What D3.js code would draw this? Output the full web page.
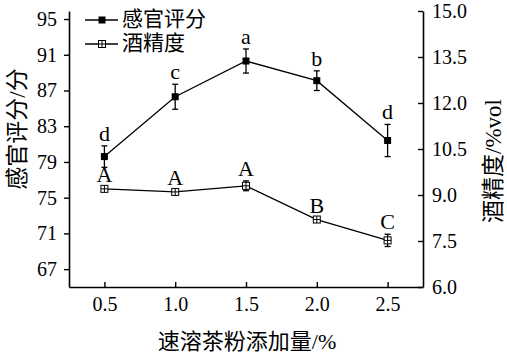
<!DOCTYPE html>
<html><head><meta charset="utf-8">
<script src="https://cdn.jsdelivr.net/npm/d3@7"></script>
<style>
body{margin:0;background:#fff;}
svg{display:block;}
</style></head>
<body><svg id="c" width="507" height="356"></svg>
<script>
const xValues = [0.5, 1.0, 1.5, 2.0, 2.5];
const sensory = [79.6, 86.3, 90.3, 88.1, 81.4];
const sensoryErr = [1.2, 1.4, 1.35, 1.1, 1.8];
const sensoryLetters = ["d", "c", "a", "b", "d"];
const alcohol = [9.2, 9.1, 9.3, 8.2, 7.52];
const alcoholErr = [0.06, 0.05, 0.16, 0.06, 0.2];
const alcoholLetters = ["A", "A", "A", "B", "C"];
const leftTicks = [67, 71, 75, 79, 83, 87, 91, 95];
const rightTicks = [6.0, 7.5, 9.0, 10.5, 12.0, 13.5, 15.0];
const xTicks = [0.5, 1.0, 1.5, 2.0, 2.5];
const seriesNames = ["感官评分", "酒精度"];
const xTitle = "速溶茶粉添加量/%";
const yLeftTitle = "感官评分/分";
const yRightTitle = "酒精度/%vol";

const FONT = '"Liberation Serif", "Times New Roman", "Noto Sans CJK SC", serif';
const svg = d3.select("#c").attr("font-family", FONT);
const L = 69, R = 423, T = 11, B = 287;
const x = d3.scaleLinear().domain([0.25, 2.75]).range([L, R]);
const yL = d3.scaleLinear().domain([65, 95.9]).range([B, T]);
const yR = d3.scaleLinear().domain([6, 15]).range([B, T]);

// axes
const ax = svg.append("g").attr("transform", `translate(0,${B})`)
  .call(d3.axisBottom(x).tickValues(xTicks).tickFormat(d3.format(".1f")).tickSizeInner(-5).tickSizeOuter(0).tickPadding(10));
const ayl = svg.append("g").attr("transform", `translate(${L},0)`)
  .call(d3.axisLeft(yL).tickValues(leftTicks).tickFormat(d3.format("d")).tickSizeInner(5).tickSizeOuter(0).tickPadding(7));
const ayr = svg.append("g").attr("transform", `translate(${R},0)`)
  .call(d3.axisRight(yR).tickValues(rightTicks).tickFormat(d3.format(".1f")).tickSizeInner(-5).tickSizeOuter(0).tickPadding(9));
[ax, ayl, ayr].forEach(g => {
  g.attr("font-family", FONT).attr("font-size", 20);
  g.select(".domain").attr("stroke", "#000").attr("stroke-width", 1.6);
  g.selectAll(".tick line").attr("stroke", "#000").attr("stroke-width", 1.4);
  g.selectAll(".tick text").attr("fill", "#000");
});
ax.selectAll(".tick text").attr("dy", "0.72em");

// lines
const lineL = d3.line().x((d, i) => x(xValues[i])).y(d => yL(d));
const lineR = d3.line().x((d, i) => x(xValues[i])).y(d => yR(d));
svg.append("path").attr("d", lineL(sensory)).attr("fill", "none").attr("stroke", "#000").attr("stroke-width", 1.3);
svg.append("path").attr("d", lineR(alcohol)).attr("fill", "none").attr("stroke", "#000").attr("stroke-width", 1.3);

function errBar(cx, y1, y2) {
  const g = svg.append("g").attr("stroke", "#000").attr("stroke-width", 1.3);
  g.append("line").attr("x1", cx).attr("x2", cx).attr("y1", y1).attr("y2", y2);
  g.append("line").attr("x1", cx - 3).attr("x2", cx + 3).attr("y1", y1).attr("y2", y1);
  g.append("line").attr("x1", cx - 3).attr("x2", cx + 3).attr("y1", y2).attr("y2", y2);
}
function filledSq(cx, cy) {
  svg.append("rect").attr("x", cx - 3.5).attr("y", cy - 3.5).attr("width", 7).attr("height", 7).attr("fill", "#000");
}
function crossSq(cx, cy) {
  const g = svg.append("g").attr("stroke", "#000").attr("stroke-width", 1);
  g.append("rect").attr("x", cx - 3.5).attr("y", cy - 3.5).attr("width", 7).attr("height", 7).attr("fill", "#fff");
  g.append("line").attr("x1", cx - 3.5).attr("x2", cx + 3.5).attr("y1", cy).attr("y2", cy);
  g.append("line").attr("x1", cx).attr("x2", cx).attr("y1", cy - 3.5).attr("y2", cy + 3.5);
}

sensory.forEach((v, i) => {
  const cx = x(xValues[i]);
  errBar(cx, yL(v + sensoryErr[i]), yL(v - sensoryErr[i]));
  filledSq(cx, yL(v));
  svg.append("text").attr("x", cx).attr("y", yL(v + sensoryErr[i]) - 5)
    .attr("text-anchor", "middle").attr("font-size", 22).text(sensoryLetters[i]);
});
alcohol.forEach((v, i) => {
  const cx = x(xValues[i]);
  errBar(cx, yR(v + alcoholErr[i]), yR(v - alcoholErr[i]));
  crossSq(cx, yR(v));
  svg.append("text").attr("x", cx).attr("y", yR(v + alcoholErr[i]) - 5)
    .attr("text-anchor", "middle").attr("font-size", 22).text(alcoholLetters[i]);
});

// legend
const leg = [[20, filledSq], [44, crossSq]];
leg.forEach(([ly, fn], i) => {
  svg.append("line").attr("x1", 85).attr("x2", 118).attr("y1", ly).attr("y2", ly).attr("stroke", "#000").attr("stroke-width", 1.4);
  fn(102, ly);
  svg.append("text").attr("x", 122).attr("y", ly + 1).attr("dominant-baseline", "middle")
    .attr("font-size", 21).text(seriesNames[i]);
});

// titles
svg.append("text").attr("x", (L + R) / 2 + 1).attr("y", 349).attr("text-anchor", "middle").attr("font-size", 22).text(xTitle);
svg.append("text").attr("transform", "translate(25,129) rotate(-90)").attr("text-anchor", "middle").attr("font-size", 23).text(yLeftTitle);
svg.append("text").attr("transform", "translate(501,161) rotate(-90)").attr("text-anchor", "middle").attr("font-size", 23).text(yRightTitle);
</script></body></html>
